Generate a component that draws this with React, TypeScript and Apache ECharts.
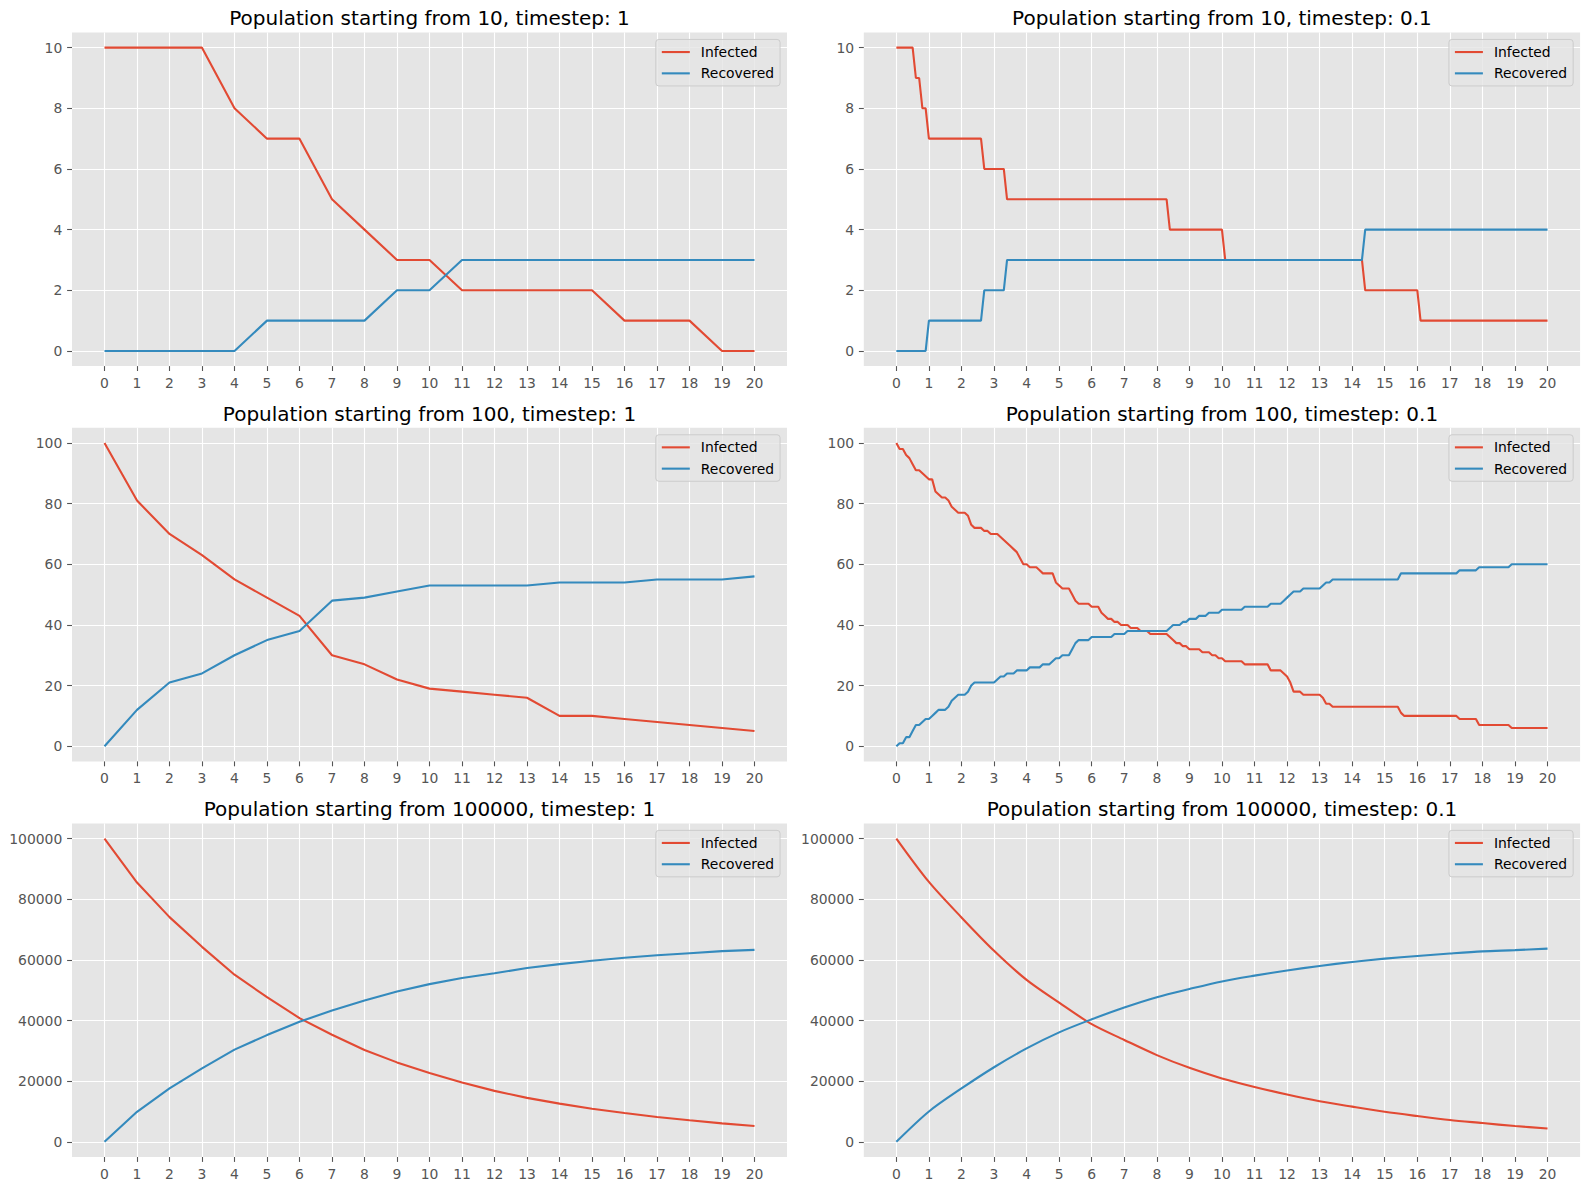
import React, { useEffect, useRef } from "react";
import * as echarts from "echarts";

// ---- data ----
const xTicks = [0, 1, 2, 3, 4, 5, 6, 7, 8, 9, 10, 11, 12, 13, 14, 15, 16, 17, 18, 19, 20];
const yTicks10 = [0, 2, 4, 6, 8, 10];
const yTicks100 = [0, 20, 40, 60, 80, 100];
const yTicks100k = [0, 20000, 40000, 60000, 80000, 100000];

// Population 10, timestep 1 (one value per time unit)
const infected10Step1 = [10, 10, 10, 10, 8, 7, 7, 5, 4, 3, 3, 2, 2, 2, 2, 2, 1, 1, 1, 0, 0];
const recovered10Step1 = [0, 0, 0, 0, 0, 1, 1, 1, 1, 2, 2, 3, 3, 3, 3, 3, 3, 3, 3, 3, 3];

// Population 10, timestep 0.1 ([time, count] at every change of slope)
const infected10Step01: [number, number][] = [
  [0, 10], [0.5, 10], [0.6, 9], [0.7, 9], [0.8, 8], [0.9, 8], [1.0, 7], [2.6, 7], [2.7, 6],
  [3.3, 6], [3.4, 5], [8.3, 5], [8.4, 4], [10.0, 4], [10.1, 3], [14.3, 3], [14.4, 2],
  [16.0, 2], [16.1, 1], [20, 1],
];
const recovered10Step01: [number, number][] = [
  [0, 0], [0.9, 0], [1.0, 1], [2.6, 1], [2.7, 2], [3.3, 2], [3.4, 3], [14.3, 3], [14.4, 4], [20, 4],
];

// Population 100, timestep 1
const infected100Step1 = [100, 81, 70, 63, 55, 49, 43, 30, 27, 22, 19, 18, 17, 16, 10, 10, 9, 8, 7, 6, 5];
const recovered100Step1 = [0, 12, 21, 24, 30, 35, 38, 48, 49, 51, 53, 53, 53, 53, 54, 54, 54, 55, 55, 55, 56];

// Population 100, timestep 0.1
const infected100Step01: [number, number][] = [
  [0, 100], [0.1, 98], [0.2, 98], [0.3, 96], [0.4, 95], [0.5, 93], [0.6, 91], [0.7, 91], [0.8, 90],
  [0.9, 89], [1.0, 88], [1.1, 88], [1.2, 84], [1.3, 83], [1.4, 82], [1.5, 82], [1.6, 81], [1.7, 79],
  [1.8, 78], [1.9, 77], [2.1, 77], [2.2, 76], [2.3, 73], [2.4, 72], [2.6, 72], [2.7, 71], [2.8, 71],
  [2.9, 70], [3.1, 70], [3.2, 69], [3.3, 68], [3.4, 67], [3.5, 66], [3.6, 65], [3.7, 64], [3.8, 62],
  [3.9, 60], [4.0, 60], [4.1, 59], [4.3, 59], [4.4, 58], [4.5, 57], [4.8, 57], [4.9, 54], [5.0, 53],
  [5.1, 52], [5.3, 52], [5.4, 50], [5.5, 48], [5.6, 47], [5.9, 47], [6.0, 46], [6.2, 46], [6.3, 44],
  [6.4, 43], [6.5, 42], [6.6, 42], [6.7, 41], [6.8, 41], [6.9, 40], [7.1, 40], [7.2, 39], [7.4, 39],
  [7.5, 38], [7.7, 38], [7.8, 37], [8.3, 37], [8.4, 36], [8.5, 35], [8.6, 34], [8.7, 34], [8.8, 33],
  [8.9, 33], [9.0, 32], [9.3, 32], [9.4, 31], [9.6, 31], [9.7, 30], [9.8, 30], [9.9, 29], [10.0, 29],
  [10.1, 28], [10.6, 28], [10.7, 27], [11.4, 27], [11.5, 25], [11.8, 25], [11.9, 24], [12.0, 23],
  [12.1, 21], [12.2, 18], [12.4, 18], [12.5, 17], [13.0, 17], [13.1, 16], [13.2, 14], [13.3, 14],
  [13.4, 13], [15.4, 13], [15.5, 11], [15.6, 10], [17.2, 10], [17.3, 9], [17.8, 9], [17.9, 7],
  [18.8, 7], [18.9, 6], [20, 6],
];
const recovered100Step01: [number, number][] = [
  [0, 0], [0.1, 1], [0.2, 1], [0.3, 3], [0.4, 3], [0.5, 5], [0.6, 7], [0.7, 7], [0.8, 8], [0.9, 9],
  [1.0, 9], [1.1, 10], [1.2, 11], [1.3, 12], [1.5, 12], [1.6, 13], [1.7, 15], [1.8, 16], [1.9, 17],
  [2.1, 17], [2.2, 18], [2.3, 20], [2.4, 21], [3.0, 21], [3.1, 22], [3.2, 23], [3.3, 23], [3.4, 24],
  [3.6, 24], [3.7, 25], [4.0, 25], [4.1, 26], [4.4, 26], [4.5, 27], [4.7, 27], [4.8, 28], [4.9, 29],
  [5.0, 29], [5.1, 30], [5.3, 30], [5.4, 32], [5.5, 34], [5.6, 35], [5.9, 35], [6.0, 36], [6.6, 36],
  [6.7, 37], [7.0, 37], [7.1, 38], [8.3, 38], [8.4, 39], [8.5, 40], [8.7, 40], [8.8, 41], [8.9, 41],
  [9.0, 42], [9.2, 42], [9.3, 43], [9.5, 43], [9.6, 44], [9.9, 44], [10.0, 45], [10.6, 45], [10.7, 46],
  [11.4, 46], [11.5, 47], [11.8, 47], [11.9, 48], [12.0, 49], [12.1, 50], [12.2, 51], [12.4, 51],
  [12.5, 52], [13.0, 52], [13.1, 53], [13.2, 54], [13.3, 54], [13.4, 55], [15.4, 55], [15.5, 57],
  [17.2, 57], [17.3, 58], [17.8, 58], [17.9, 59], [18.8, 59], [18.9, 60], [20, 60],
];

// Population 100000, timestep 1
const infected100kStep1 = [
  100000, 85500, 74100, 64300, 55100, 47700, 40800, 35300, 30300, 26200, 22700,
  19600, 16800, 14500, 12600, 10900, 9500, 8200, 7100, 6100, 5200,
];
const recovered100kStep1 = [
  0, 9900, 17600, 24200, 30400, 35200, 39600, 43300, 46600, 49600, 52000,
  54000, 55600, 57300, 58600, 59700, 60700, 61500, 62200, 62900, 63300,
];

// Population 100000, timestep 0.1 (sampled at whole time units)
const infected100kStep01 = [
  100000, 85700, 74000, 63000, 53400, 45900, 38800, 33600, 28600, 24400, 20900,
  18100, 15600, 13400, 11600, 9900, 8500, 7200, 6200, 5200, 4400,
];
const recovered100kStep01 = [
  0, 10000, 17600, 24600, 30800, 36100, 40400, 44300, 47700, 50400, 52900,
  54800, 56500, 58000, 59300, 60400, 61300, 62100, 62800, 63200, 63700,
];

// ---- styling ----
const RED = "#E24A33";
const BLUE = "#348ABD";
const FONT = "DejaVu Sans";
const TICK_COLOR = "#555555";

const W = 1590;
const H = 1189;
const COLS = [
  { left: 72, width: 715 },
  { left: 863.8, width: 716.3 },
];
const ROWS = [
  { top: 32.5, height: 333.6 },
  { top: 427.8, height: 333.6 },
  { top: 823.4, height: 333.6 },
];

const pairs = (xs: number[], ys: number[]): [number, number][] => xs.map((x, i) => [x, ys[i]]);

type Panel = {
  title: string;
  infected: [number, number][];
  recovered: [number, number][];
  yMax: number;
  yTicks: number[];
  smooth: boolean;
};

const panels: Panel[] = [
  { title: "Population starting from 10, timestep: 1", infected: pairs(xTicks, infected10Step1), recovered: pairs(xTicks, recovered10Step1), yMax: 10, yTicks: yTicks10, smooth: false },
  { title: "Population starting from 10, timestep: 0.1", infected: infected10Step01, recovered: recovered10Step01, yMax: 10, yTicks: yTicks10, smooth: false },
  { title: "Population starting from 100, timestep: 1", infected: pairs(xTicks, infected100Step1), recovered: pairs(xTicks, recovered100Step1), yMax: 100, yTicks: yTicks100, smooth: false },
  { title: "Population starting from 100, timestep: 0.1", infected: infected100Step01, recovered: recovered100Step01, yMax: 100, yTicks: yTicks100, smooth: false },
  { title: "Population starting from 100000, timestep: 1", infected: pairs(xTicks, infected100kStep1), recovered: pairs(xTicks, recovered100kStep1), yMax: 100000, yTicks: yTicks100k, smooth: false },
  { title: "Population starting from 100000, timestep: 0.1", infected: pairs(xTicks, infected100kStep01), recovered: pairs(xTicks, recovered100kStep01), yMax: 100000, yTicks: yTicks100k, smooth: true },
];

function buildOption() {
  const grid: any[] = [];
  const xAxis: any[] = [];
  const yAxis: any[] = [];
  const title: any[] = [];
  const legend: any[] = [];
  const series: any[] = [];

  panels.forEach((p, i) => {
    const col = COLS[i % 2];
    const row = ROWS[Math.floor(i / 2)];
    const pad = p.yMax * 0.05;

    grid.push({
      left: col.left,
      top: row.top,
      width: col.width,
      height: row.height,
      show: true,
      backgroundColor: "#E5E5E5",
      borderWidth: 0,
      containLabel: false,
      outerBoundsMode: "none",
    });

    const tickStyle = {
      show: true,
      length: 4.9,
      inside: false,
      lineStyle: { color: TICK_COLOR, width: 1.1 },
    };
    const labelStyle = {
      color: TICK_COLOR,
      fontSize: 13.9,
      fontFamily: FONT,
      margin: 9.7,
      formatter: (v: number) => String(v),
    };

    xAxis.push({
      type: "value",
      gridIndex: i,
      min: -1,
      max: 21,
      interval: 1,
      position: "bottom",
      axisLine: { show: false, onZero: false },
      axisTick: { ...tickStyle, customValues: xTicks },
      axisLabel: { ...labelStyle, customValues: xTicks },
      splitLine: { show: true, lineStyle: { color: "#FFFFFF", width: 1.1 } },
    });

    yAxis.push({
      type: "value",
      gridIndex: i,
      min: -pad,
      max: p.yMax + pad,
      position: "left",
      axisLine: { show: false, onZero: false },
      axisTick: { ...tickStyle, customValues: p.yTicks },
      axisLabel: { ...labelStyle, customValues: p.yTicks },
      splitLine: { show: true, lineStyle: { color: "#FFFFFF", width: 1.1 } },
    });

    title.push({
      text: p.title,
      left: col.left + col.width / 2,
      top: row.top - 24.2,
      textAlign: "center",
      padding: 0,
      textStyle: { fontSize: 20, fontWeight: "normal", color: "#000000", fontFamily: FONT, lineHeight: 20 },
    });

    const axesRight = col.left + col.width;
    legend.push({
      orient: "vertical",
      right: W - (axesRight - 6.95),
      top: row.top + 6.95,
      data: ["Infected", "Recovered"],
      selectedMode: false,
      icon: "rect",
      itemWidth: 28,
      itemHeight: 2.1,
      itemGap: 7.3,
      padding: [5.6, 6, 5.6, 6],
      backgroundColor: "rgba(229,229,229,0.8)",
      borderColor: "#CCCCCC",
      borderWidth: 1,
      borderRadius: 3,
      textStyle: { fontSize: 13.9, lineHeight: 14, color: "#000000", fontFamily: FONT, padding: [0, 0, 0, 6] },
    });

    const lineSeries = (name: string, data: [number, number][], color: string) => ({
      type: "line",
      name,
      xAxisIndex: i,
      yAxisIndex: i,
      data,
      symbol: "none",
      showSymbol: false,
      smooth: p.smooth ? 0.3 : false,
      lineStyle: { width: 2.1, color },
      itemStyle: { color },
      emphasis: { disabled: true },
      silent: true,
    });
    series.push(lineSeries("Infected", p.infected, RED));
    series.push(lineSeries("Recovered", p.recovered, BLUE));
  });

  return {
    animation: false,
    backgroundColor: "#FFFFFF",
    textStyle: { fontFamily: FONT },
    title,
    legend,
    grid,
    xAxis,
    yAxis,
    series,
  };
}

export default function App() {
  const ref = useRef<HTMLDivElement>(null);

  useEffect(() => {
    if (!ref.current) return;
    const chart = echarts.init(ref.current, null, { renderer: "svg" });
    chart.setOption(buildOption() as any);
    return () => {
      chart.dispose();
    };
  }, []);

  return (
    <div
      ref={ref}
      style={{ position: "fixed", left: 0, top: 0, width: W, height: H, background: "#FFFFFF" }}
    />
  );
}
